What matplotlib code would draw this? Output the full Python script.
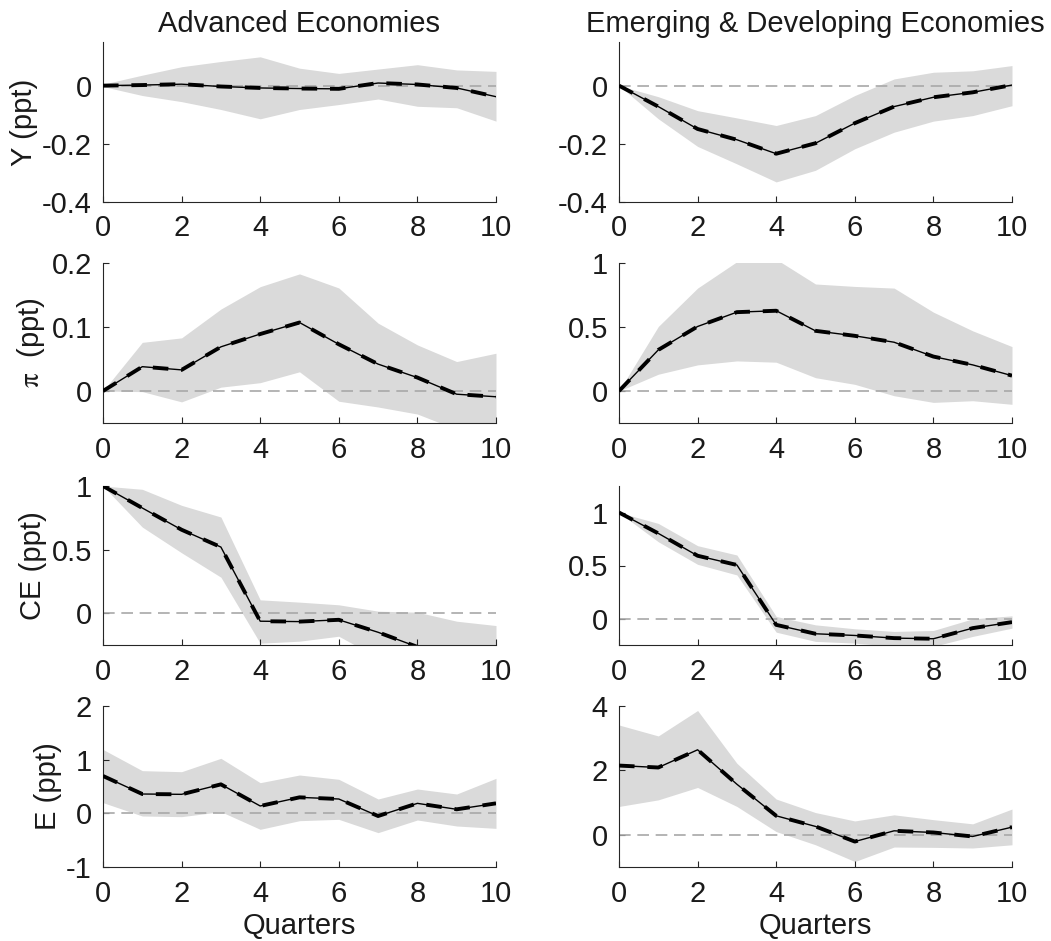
import numpy as np
import matplotlib.pyplot as plt

plt.rcParams['font.family'] = ['Liberation Sans', 'DejaVu Sans']
plt.rcParams['axes.unicode_minus'] = False
plt.rcParams['mathtext.fontset'] = 'stix'

quarters = np.arange(11)

# Advanced economies: median, lower and upper band
ae_y = [0.0, 0.002, 0.005, -0.003, -0.008, -0.010, -0.011, 0.009, 0.004, -0.008, -0.038]
ae_y_lo = [-0.003, -0.034, -0.055, -0.082, -0.114, -0.082, -0.065, -0.046, -0.071, -0.076, -0.122]
ae_y_hi = [0.005, 0.036, 0.065, 0.083, 0.099, 0.060, 0.042, 0.057, 0.072, 0.054, 0.049]

ae_pi = [0.0, 0.038, 0.033, 0.069, 0.089, 0.107, 0.073, 0.042, 0.021, -0.005, -0.009]
ae_pi_lo = [0.0, -0.001, -0.017, 0.006, 0.013, 0.030, -0.016, -0.025, -0.036, -0.060, -0.070]
ae_pi_hi = [0.0, 0.076, 0.083, 0.128, 0.163, 0.183, 0.161, 0.106, 0.072, 0.046, 0.059]

ae_ce = [1.0, 0.827, 0.656, 0.520, -0.063, -0.066, -0.052, -0.150, -0.265, -0.300, -0.320]
ae_ce_lo = [1.0, 0.677, 0.475, 0.283, -0.236, -0.220, -0.181, -0.350, -0.450, -0.500, -0.520]
ae_ce_hi = [1.0, 0.974, 0.848, 0.756, 0.105, 0.087, 0.066, 0.016, 0.008, -0.063, -0.097]

ae_e = [0.696, 0.360, 0.354, 0.540, 0.137, 0.298, 0.267, -0.050, 0.186, 0.075, 0.186]
ae_e_lo = [0.199, -0.050, -0.062, 0.031, -0.298, -0.137, -0.112, -0.360, -0.124, -0.236, -0.280]
ae_e_hi = [1.190, 0.795, 0.776, 1.025, 0.571, 0.714, 0.634, 0.267, 0.453, 0.360, 0.652]

# Emerging & developing economies
ede_y = [0.0, -0.072, -0.149, -0.186, -0.234, -0.198, -0.129, -0.072, -0.040, -0.023, 0.002]
ede_y_lo = [0.0, -0.114, -0.209, -0.269, -0.331, -0.291, -0.217, -0.160, -0.122, -0.103, -0.069]
ede_y_hi = [0.0, -0.038, -0.086, -0.111, -0.137, -0.103, -0.034, 0.023, 0.046, 0.051, 0.069]

ede_pi = [0.0, 0.321, 0.504, 0.616, 0.627, 0.470, 0.431, 0.381, 0.269, 0.204, 0.120]
ede_pi_lo = [0.0, 0.131, 0.204, 0.235, 0.225, 0.104, 0.052, -0.037, -0.089, -0.076, -0.104]
ede_pi_hi = [0.0, 0.504, 0.804, 1.010, 1.029, 0.836, 0.817, 0.804, 0.616, 0.470, 0.347]

ede_ce = [1.0, 0.803, 0.592, 0.505, -0.060, -0.144, -0.160, -0.185, -0.191, -0.091, -0.034]
ede_ce_lo = [1.0, 0.724, 0.511, 0.411, -0.129, -0.216, -0.232, -0.263, -0.263, -0.169, -0.091]
ede_ce_hi = [1.0, 0.897, 0.687, 0.599, 0.019, -0.060, -0.097, -0.122, -0.113, -0.003, 0.025]

ede_e = [2.15, 2.09, 2.64, 1.57, 0.59, 0.26, -0.21, 0.124, 0.072, -0.052, 0.238]
ede_e_lo = [0.88, 1.085, 1.47, 0.88, 0.10, -0.31, -0.83, -0.38, -0.39, -0.41, -0.31]
ede_e_hi = [3.41, 3.07, 3.86, 2.22, 1.11, 0.69, 0.43, 0.62, 0.47, 0.34, 0.80]

col_titles = ['Advanced Economies', 'Emerging & Developing Economies']
row_labels = ['Y (ppt)', r'$\mathrm{\pi}$  (ppt)', 'CE (ppt)', 'E (ppt)']

panels = [
    [(ae_y, ae_y_lo, ae_y_hi), (ede_y, ede_y_lo, ede_y_hi)],
    [(ae_pi, ae_pi_lo, ae_pi_hi), (ede_pi, ede_pi_lo, ede_pi_hi)],
    [(ae_ce, ae_ce_lo, ae_ce_hi), (ede_ce, ede_ce_lo, ede_ce_hi)],
    [(ae_e, ae_e_lo, ae_e_hi), (ede_e, ede_e_lo, ede_e_hi)],
]
ylims = [
    [(-0.4, 0.15), (-0.4, 0.15)],
    [(-0.05, 0.2), (-0.25, 1.0)],
    [(-0.25, 1.0), (-0.25, 1.25)],
    [(-1, 2), (-1, 4)],
]
yticks = [
    [[-0.4, -0.2, 0], [-0.4, -0.2, 0]],
    [[0, 0.1, 0.2], [0, 0.5, 1]],
    [[0, 0.5, 1], [0, 0.5, 1]],
    [[-1, 0, 1, 2], [0, 2, 4]],
]

W, H = 1051, 941
fig = plt.figure(figsize=(W / 100, H / 100), dpi=100)

col_left = [103, 619]
ax_w = 393
row_top = [42, 263, 486, 706]
row_bot = [202, 423, 645, 867]

axc = '#262626'
fs = 21
for r in range(4):
    for c in range(2):
        ax = fig.add_axes([col_left[c] / W, 1 - row_bot[r] / H,
                           ax_w / W, (row_bot[r] - row_top[r]) / H])
        med, lo, hi = panels[r][c]
        ax.fill_between(quarters, lo, hi, color='#dadada', linewidth=0, zorder=1)
        ax.axhline(0, color='#a8a8a8', lw=1.2, dashes=(7, 4), zorder=2)
        ax.plot(quarters, med, color='k', lw=1.0, zorder=3)
        ax.plot(quarters, med, color='k', lw=2.8, dashes=(4.0, 3.3), zorder=4)
        ax.set_xlim(0, 10)
        ax.set_ylim(*ylims[r][c])
        ax.set_xticks([0, 2, 4, 6, 8, 10])
        ax.set_yticks(yticks[r][c])
        ax.set_yticklabels(['%g' % v for v in yticks[r][c]])
        ax.spines['top'].set_visible(False)
        ax.spines['right'].set_visible(False)
        for s in ['left', 'bottom']:
            ax.spines[s].set_color(axc)
            ax.spines[s].set_linewidth(0.8)
        ax.tick_params(direction='in', length=4, width=0.8, colors=axc,
                       labelsize=fs, labelcolor='#1a1a1a')
        ax.tick_params(axis='x', pad=9)
        ax.tick_params(axis='y', pad=8)
        if c == 0:
            ax.set_ylabel(row_labels[r], fontsize=fs, color='#1a1a1a', labelpad=3)
        if r == 0:
            ax.set_title(col_titles[c], fontsize=fs, color='#1a1a1a', pad=7)
        if r == 3:
            ax.set_xlabel('Quarters', fontsize=fs, color='#1a1a1a', labelpad=3)

fig.savefig('out.png', dpi=100)
